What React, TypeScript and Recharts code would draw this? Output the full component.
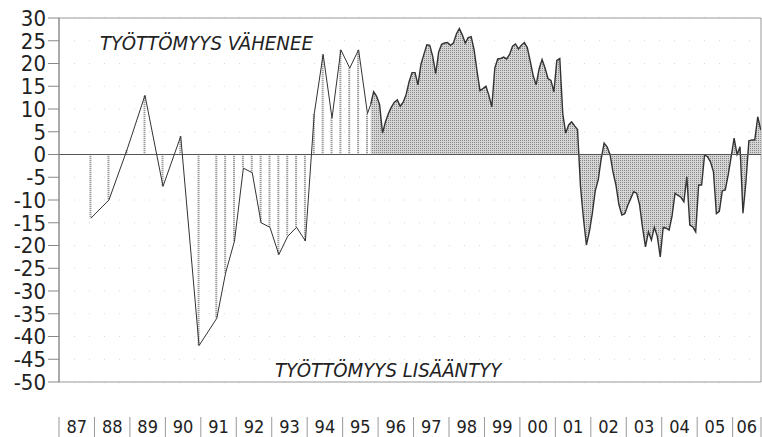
import React from 'react';
import {
  ComposedChart, Line, Area, Bar, XAxis, YAxis, CartesianGrid,
  ReferenceLine, ReferenceArea,
} from 'recharts';

// Semi-annual / quarterly observations 1987–1995 (time in months since Jan 1987)
const earlyT = [10.8, 16.9, 23, 29.1, 35.2, 41.2, 47.4, 53.4, 56.4, 59.4, 62.4, 65.4, 68.4, 71.4, 74.4, 77.4, 80.4, 83.4, 86.4, 89.4, 92.4, 95.4, 98.4, 101.4, 104.4];
const earlyV = [-14, -10, 1, 13, -7, 4, -42, -36, -26, -19, -3, -4, -15, -16, -22, -18, -16, -19, 9, 22, 8, 23, 19, 23, 9];

// Monthly observations from autumn 1995 onwards
const MONTHLY_START = 105.5;
const monthlyV = [
  11, 13.8, 12.8, 11, 4.7, 7.2, 9, 10.4, 11.5, 12,
  10.6, 11.5, 13.2, 16, 18, 18, 15.3, 19.8, 22, 24.1,
  24, 21.5, 17.8, 22.5, 24.2, 24.5, 24.6, 24, 24.5, 26.5,
  27.7, 26.3, 24.5, 25.7, 25.9, 23, 18.3, 14, 14.5, 15,
  13, 10.5, 19, 21, 21.1, 21.4, 21, 22, 23.8, 24.3,
  23.2, 24, 24.6, 23.5, 20.5, 17.3, 15.3, 18.8, 20.9, 19,
  16.7, 16.3, 13.8, 20.7, 21.1, 9, 4.7, 6.5, 7.2, 6.3,
  5.5, -7, -14, -19.9, -17, -13, -8, -5.6, -1, 2.5,
  1.7, 0, -3.8, -6.7, -11, -13.3, -13, -11.2, -9.7, -8.2,
  -8.5, -11, -16, -20.3, -17, -18.8, -16, -18, -22.5, -16,
  -16.2, -16.6, -13.5, -8.5, -9, -9.4, -10.4, -4.9, -15.5, -15.9,
  -17, -6.7, -6.7, -0.1, -0.5, -1.6, -3.8, -13, -12.5, -8,
  -7.8, -4.5, -0.5, 3.6, 0, 1.7, -12.9, -6, 3, 3.2,
  3.2, 8.3, 5.4,
];

const yearLabels = ['87', '88', '89', '90', '91', '92', '93', '94', '95', '96', '97', '98', '99', '00', '01', '02', '03', '04', '05', '06'];
const X_END = 237.6;
const yTicks = [30, 25, 20, 15, 10, 5, 0, -5, -10, -15, -20, -25, -30, -35, -40, -45, -50];

const FONT = "'Liberation Sans Narrow', 'DejaVu Sans Condensed', 'Arial Narrow', sans-serif";

// Build chart table
const rows: any[] = [];
earlyT.forEach((t, i) => rows.push({ t, e: earlyV[i], drop: earlyV[i], m: null }));
monthlyV.forEach((v, k) => rows.push({ t: MONTHLY_START + k, e: k === 0 ? v : null, drop: null, m: v }));

const sepTicks = yearLabels.map((_, i) => i * 12).concat([X_END]);
const labelTicks = yearLabels.map((_, i) => (i * 12 + Math.min((i + 1) * 12, X_END)) / 2);
const labelMap = new Map<number, string>();
labelTicks.forEach((t, i) => labelMap.set(t, yearLabels[i]));
const sepSet = new Set<number>(sepTicks);
const allTicks = [...sepTicks, ...labelTicks].sort((a, b) => a - b);

const YearTick = (props: any) => {
  const { x, y, payload } = props;
  const v = payload.value;
  if (sepSet.has(v)) {
    return <line x1={x} x2={x} y1={y + 35} y2={y + 56} stroke="#999" strokeWidth={1} />;
  }
  return (
    <text x={x} y={y + 51} textAnchor="middle" fontFamily={FONT} fontSize={18} fill="#222">
      {labelMap.get(v)}
    </text>
  );
};

export default function App() {
  return (
    <div style={{ position: 'absolute', left: 0, top: 0, background: '#fff' }}>
      <ComposedChart
        width={762}
        height={437}
        data={rows}
        margin={{ top: 18, right: 1, bottom: 0, left: 0 }}
      >
        <defs>
          <pattern id="halftone" width="2" height="2" patternUnits="userSpaceOnUse">
            <rect width="2" height="2" fill="#d6d6d6" />
            <rect width="1" height="1" fill="#858585" />
          </pattern>
          <pattern id="hatch" width="2" height="2" patternUnits="userSpaceOnUse">
            <rect width="2" height="2" fill="#e4e4e4" />
            <rect width="2" height="1" fill="#9a9a9a" />
          </pattern>
        </defs>
        <CartesianGrid vertical={false} stroke="#d8d8d8" strokeDasharray="1 14" />
        <XAxis
          dataKey="t"
          type="number"
          domain={[0, X_END]}
          allowDataOverflow
          ticks={allTicks}
          interval={0}
          tick={<YearTick />}
          tickLine={false}
          axisLine={false}
          tickSize={0}
          tickMargin={0}
          height={55}
        />
        <YAxis
          type="number"
          domain={[-50, 30]}
          ticks={yTicks}
          interval={0}
          width={59}
          tickSize={11}
          tickMargin={2}
          tickLine={{ stroke: '#888' }}
          axisLine={{ stroke: '#888' }}
          tick={{ fontFamily: FONT, fontSize: 22, fill: '#222' }}
        />
        <ReferenceArea x1={0} x2={X_END} y1={-50} y2={30} fill="none" stroke="#999" strokeWidth={1} />
        <Bar dataKey="drop" barSize={2} fill="url(#hatch)" isAnimationActive={false} />
        <Area
          dataKey="m"
          type="linear"
          fill="url(#halftone)"
          fillOpacity={1}
          stroke="#333"
          strokeWidth={1.4}
          isAnimationActive={false}
          dot={false}
          activeDot={false}
        />
        <ReferenceLine y={0} stroke="#555" strokeWidth={1} />
        <Line
          dataKey="e"
          type="linear"
          stroke="#333"
          strokeWidth={1}
          dot={false}
          activeDot={false}
          isAnimationActive={false}
        />
        <text x={100} y={50} fontFamily={FONT} fontStyle="italic" fontSize={20.2} fill="#222">
          TYÖTTÖMYYS VÄHENEE
        </text>
        <text x={275} y={377} fontFamily={FONT} fontStyle="italic" fontSize={20.2} fill="#222">
          TYÖTTÖMYYS LISÄÄNTYY
        </text>
      </ComposedChart>
    </div>
  );
}
